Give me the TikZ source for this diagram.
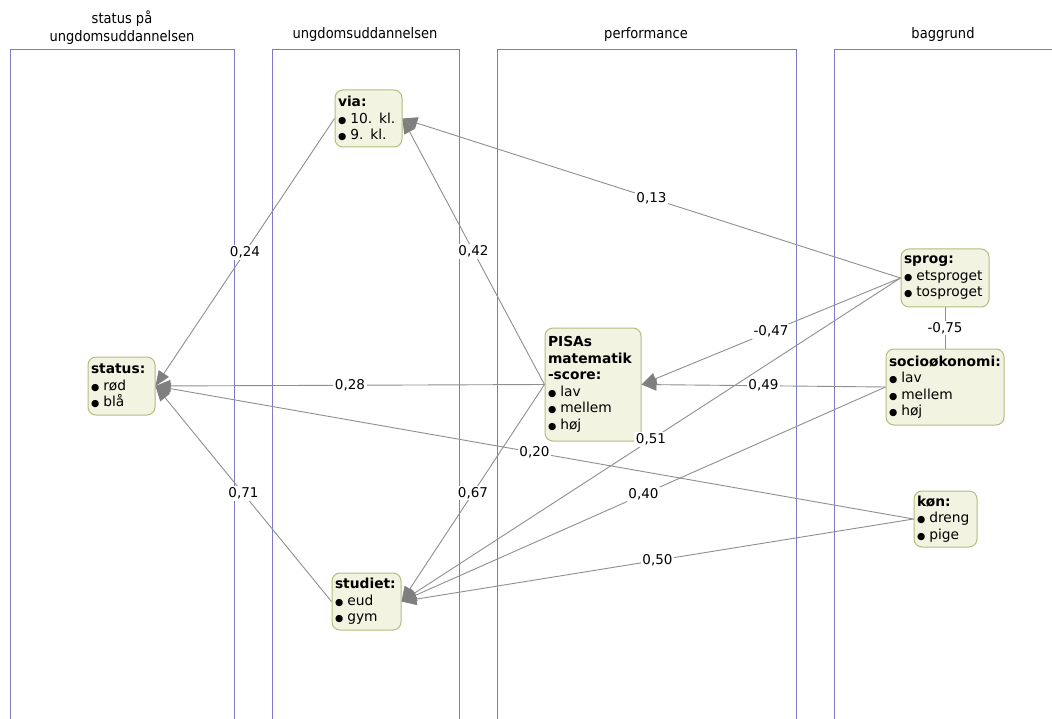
\documentclass[tikz,border=0pt]{standalone}
\usepackage{fontspec}
\setmainfont{DejaVu Sans}
\newfontfamily\titlefont[FakeStretch=0.9]{DejaVu Sans}
\usetikzlibrary{arrows.meta}
\definecolor{lanec}{HTML}{7B7BC8}
\definecolor{nodefill}{HTML}{F3F3E1}
\definecolor{nodeborder}{HTML}{B4BC7E}
\definecolor{edgec}{HTML}{8F8F8F}
\definecolor{tipc}{HTML}{7F7F7F}
\newcommand{\mybul}{{\fontsize{9.5}{9}\selectfont ●}\hspace{4pt}}
\begin{document}
\begin{tikzpicture}[x=1pt,y=-1pt,
  lane/.style={draw=lanec, line width=1pt},
  lanetitle/.style={font=\titlefont\fontsize{14.5}{18}\selectfont, align=center, inner sep=0pt},
  box/.style={draw=nodeborder, fill=nodefill, rounded corners=8pt, line width=1pt,
    inner xsep=3pt, inner ysep=0pt, font=\fontsize{13.8}{16.5}\selectfont, align=left},
  rel/.style={draw=edgec, line width=0.9pt, -{Triangle[length=15pt,width=12pt,color=tipc]}},
  plain/.style={draw=edgec, line width=0.9pt},
  wt/.style={fill=white, inner sep=1.5pt, font=\fontsize{13.5}{15}\selectfont}
]
\useasboundingbox (0,0) rectangle (1052,719);
\fill[white] (0,0) rectangle (1052,719);

% lanes
\draw[lane] (10,719) -- (10,50) -- (234,50) -- (234,719);
\draw[lane] (272,719) -- (272,50) -- (459,50) -- (459,719);
\draw[lane] (497,719) -- (497,50) -- (796,50) -- (796,719);
\draw[lane] (834,719) -- (834,50) -- (1060,50);

\node[lanetitle] (t1) at (122,28) {status på\\ungdomsuddannelsen};
\node[lanetitle] (t2) at (365,35) {ungdomsuddannelsen};
\node[lanetitle] (t3) at (646,35) {performance};
\node[lanetitle] (t4) at (943,35) {baggrund};

% nodes
\node[box, text width=61pt, minimum height=57pt] (via) at (368.5,118.5)
  {\textbf{via:}\\\mybul 10. kl.\\\mybul 9. kl.};
\node[box, text width=61pt, minimum height=58pt] (status) at (121.5,386)
  {\textbf{status:}\\\mybul rød\\\mybul blå};
\node[box, text width=63pt, minimum height=57pt] (studiet) at (366.5,601.5)
  {\textbf{studiet:}\\\mybul eud\\\mybul gym};
\node[box, text width=90pt, minimum height=113pt] (pisa) at (593,384.5)
  {\textbf{PISAs}\\\textbf{matematik}\\\textbf{-score:}\\\mybul lav\\\mybul mellem\\\mybul høj};
\node[box, text width=82pt, minimum height=58pt] (sprog) at (945,278)
  {\textbf{sprog:}\\\mybul etsproget\\\mybul tosproget};
\node[box, text width=112pt, minimum height=76pt] (socio) at (945,387)
  {\textbf{socioøkonomi:}\\\mybul lav\\\mybul mellem\\\mybul høj};
\node[box, text width=57pt, minimum height=56pt] (kon) at (945.5,519)
  {\textbf{køn:}\\\mybul dreng\\\mybul pige};

% edges
\draw[rel] (via.west) -- node[wt]{0,24} (status.east);
\draw[rel] (pisa.west) -- node[wt]{0,28} (status.east);
\draw[rel] (kon.west) -- node[wt]{0,20} (status.east);
\draw[rel] (studiet.west) -- node[wt]{0,71} (status.east);
\draw[rel] (sprog.west) -- node[wt]{0,13} (via.east);
\draw[rel] (pisa.west) -- node[wt]{0,42} (via.east);
\draw[rel] (pisa.west) -- node[wt]{0,67} (studiet.east);
\draw[rel] (sprog.west) -- node[wt]{0,51} (studiet.east);
\draw[rel] (socio.west) -- node[wt]{0,40} (studiet.east);
\draw[rel] (kon.west) -- node[wt]{0,50} (studiet.east);
\draw[rel] (sprog.west) -- node[wt]{-0,47} (pisa.east);
\draw[rel] (socio.west) -- node[wt]{0,49} (pisa.east);
\draw[plain] (sprog.south) -- node[wt]{-0,75} (socio.north);
\end{tikzpicture}
\end{document}
